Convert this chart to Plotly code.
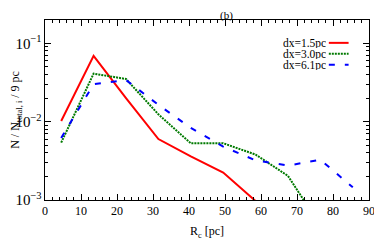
import plotly.graph_objects as go

# Data
rc_red = [4.5, 13.5, 22.5, 31.5, 40.5, 49.5, 58.5]
n_red = [0.0102, 0.069, 0.020, 0.0060, 0.0036, 0.00224, 0.00097]

rc_green = [4.5, 13.5, 22.5, 31.5, 40.5, 49.5, 58.5, 67.5, 76.5]
n_green = [0.0054, 0.041, 0.035, 0.0124, 0.0053, 0.0053, 0.0038, 0.00203, 0.00047]

rc_blue = [4.5, 13.5, 22.5, 31.5, 40.5, 49.5, 58.5, 67.5, 76.5, 85.5]
n_blue = [0.0062, 0.030, 0.034, 0.0164, 0.0083, 0.0048, 0.0032, 0.00275, 0.00326, 0.00145]

labels = ["dx=1.5pc", "dx=3.0pc", "dx=6.1pc"]
colors = ["#ff0000", "#007a00", "#0000ff"]
dashes = ["solid", "2px,1px", "6px,10px"]

FONT = "Liberation Serif"

fig = go.Figure()
series = [(rc_red, n_red), (rc_green, n_green), (rc_blue, n_blue)]
for (x, y), lab, c, d in zip(series, labels, colors, dashes):
    fig.add_trace(go.Scatter(x=x, y=y, mode="lines", name=lab,
                             line=dict(color=c, width=2, dash=d),
                             showlegend=False, cliponaxis=True))

# Legend drawn as text + sample lines (text left of sample, like the original)
rows = [0.873, 0.812, 0.751]
for lab, c, d, yy in zip(labels, colors, dashes, rows):
    fig.add_annotation(x=0.869, y=yy, xref="paper", yref="paper", text=lab,
                       showarrow=False, xanchor="right", yanchor="middle",
                       font=dict(family=FONT, size=11.5, color="black"),
                       borderpad=0, height=10)
    fig.add_shape(type="line", xref="paper", yref="paper",
                  x0=0.876, x1=0.937, y0=yy, y1=yy,
                  line=dict(color=c, width=2, dash=d))

# Panel label, just inside the top edge of the figure
fig.add_annotation(x=0.56, y=1.066, xref="paper", yref="paper", text="(b)",
                   showarrow=False, xanchor="center", yanchor="top", borderpad=0,
                   font=dict(family=FONT, size=11, color="black"))

axis_common = dict(showline=True, linecolor="black", linewidth=1, mirror="ticks",
                   ticks="inside", tickcolor="black", showgrid=False, zeroline=False,
                   automargin=False,
                   tickfont=dict(family=FONT, size=12, color="black"))

fig.update_xaxes(range=[0, 90], dtick=10, tick0=0, ticklen=6,
                 minor=dict(ticks="inside", dtick=2, ticklen=3, tickcolor="black"),
                 title=dict(text="R<sub>c</sub> [pc]", font=dict(family=FONT, size=12, color="black"),
                            standoff=9),
                 **axis_common)
fig.update_yaxes(type="log", range=[-3, -0.703], dtick=1, ticklen=6,
                 exponentformat="power", showexponent="all",
                 minor=dict(ticks="inside", dtick="D1", ticklen=3, tickcolor="black"),
                 title=dict(text="N / N<sub>total, i</sub> / 9 pc",
                            font=dict(family=FONT, size=12, color="black"), standoff=10),
                 **axis_common)

# The page body adds an 8px offset; the figure is sized so the plot area lands
# at x 45..369 and y 20..200 in the 382x243 window.
fig.update_layout(width=374, height=235,
                  margin=dict(l=37, r=13, t=12, b=43),
                  paper_bgcolor="white", plot_bgcolor="white",
                  font=dict(family=FONT))

fig.write_html("out.html")
